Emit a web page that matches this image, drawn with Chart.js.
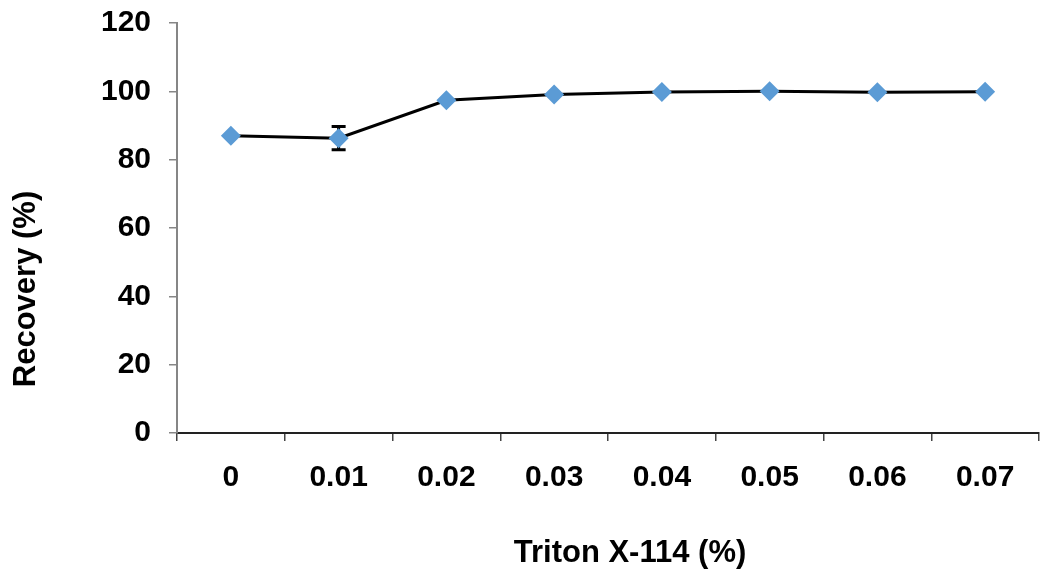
<!DOCTYPE html>
<html>
<head>
<meta charset="utf-8">
<script src="https://cdn.jsdelivr.net/npm/chart.js@4.4.0/dist/chart.umd.min.js"></script>
<style>
  html, body { margin: 0; padding: 0; background: #fff; overflow: hidden; }
  /* canvas is a bit wider than the window: chart.js keeps ~10px spare on the right */
  #wrap { width: 1049px; height: 578px; }
</style>
</head>
<body>
<div id="wrap"><canvas id="c"></canvas></div>
<script>
const concentrations = ['0', '0.01', '0.02', '0.03', '0.04', '0.05', '0.06', '0.07'];
const recovery = [87.0, 86.3, 97.4, 99.1, 99.8, 100.0, 99.7, 99.9];
const errors = [0, 3.4, 0, 0, 0, 0, 0, 0];
const yTicks = [0, 20, 40, 60, 80, 100, 120];
const xTitle = 'Triton X-114 (%)';
const yTitle = 'Recovery (%)';

const tickFont = { family: '"Liberation Sans", Arial, sans-serif', size: 30, weight: 'bold' };

// error bars, drawn before the markers so the diamond covers the stem
const errorBars = {
    id: 'errorBars',
    beforeDatasetsDraw(chart) {
        const ctx = chart.ctx;
        const x = chart.scales.x;
        const y = chart.scales.y;
        ctx.save();
        ctx.strokeStyle = '#000';
        ctx.lineWidth = 3;
        errors.forEach((e, i) => {
            if (!e) return;
            const px = x.getPixelForValue(i);
            const top = y.getPixelForValue(recovery[i] + e);
            const bot = y.getPixelForValue(recovery[i] - e);
            ctx.beginPath();
            ctx.moveTo(px, top); ctx.lineTo(px, bot);
            ctx.moveTo(px - 7, top); ctx.lineTo(px + 7, top);
            ctx.moveTo(px - 7, bot); ctx.lineTo(px + 7, bot);
            ctx.stroke();
        });
        ctx.restore();
    }
};

// axis titles are not centred on the plot in the original, so draw them here
const axisTitles = {
    id: 'axisTitles',
    afterDraw(chart) {
        const ctx = chart.ctx;
        const a = chart.chartArea;
        ctx.save();
        ctx.fillStyle = '#000';
        ctx.font = 'bold 31px "Liberation Sans", Arial, sans-serif';
        ctx.textAlign = 'center';
        ctx.textBaseline = 'middle';
        ctx.fillText(xTitle, (a.left + a.right) / 2 + 22, a.bottom + 120);
        ctx.translate(26, (a.top + a.bottom) / 2 + 61);
        ctx.rotate(-Math.PI / 2);
        ctx.fillText(yTitle, 0, 0);
        ctx.restore();
    }
};

new Chart(document.getElementById('c'), {
    type: 'line',
    data: {
        labels: concentrations,
        datasets: [{
            data: recovery,
            borderColor: '#000',
            borderWidth: 3,
            tension: 0,
            pointStyle: 'rectRot',
            pointRadius: 10,
            pointBackgroundColor: '#5B9BD5',
            pointBorderColor: '#5B9BD5',
            pointBorderWidth: 0
        }]
    },
    options: {
        responsive: true,
        maintainAspectRatio: false,
        animation: false,
        layout: { padding: { top: 23, right: 2, left: 0, bottom: 0 } },
        plugins: { legend: { display: false }, tooltip: { enabled: false } },
        scales: {
            x: {
                type: 'category',
                offset: true,
                border: { color: '#222', width: 2 },
                grid: { offset: true, drawOnChartArea: false, drawTicks: true, tickLength: 8, color: '#444', lineWidth: 1.5 },
                ticks: { color: '#000', font: tickFont, padding: 19, maxRotation: 0 },
                afterFit(scale) {
                    scale.height = 145;
                    scale.paddingLeft = 0;
                    scale.paddingRight = 0;
                }
            },
            y: {
                min: 0,
                max: 120,
                afterBuildTicks(scale) { scale.ticks = yTicks.map(v => ({ value: v })); },
                border: { color: '#868686', width: 2 },
                grid: { drawOnChartArea: false, drawTicks: true, tickLength: 8, color: '#868686', lineWidth: 1.5 },
                ticks: { color: '#000', font: tickFont, padding: 18 },
                afterFit(scale) {
                    scale.width = 177;
                    scale.paddingTop = 0;
                    scale.paddingBottom = 0;
                }
            }
        }
    },
    plugins: [errorBars, axisTitles]
});
</script>
</body>
</html>
